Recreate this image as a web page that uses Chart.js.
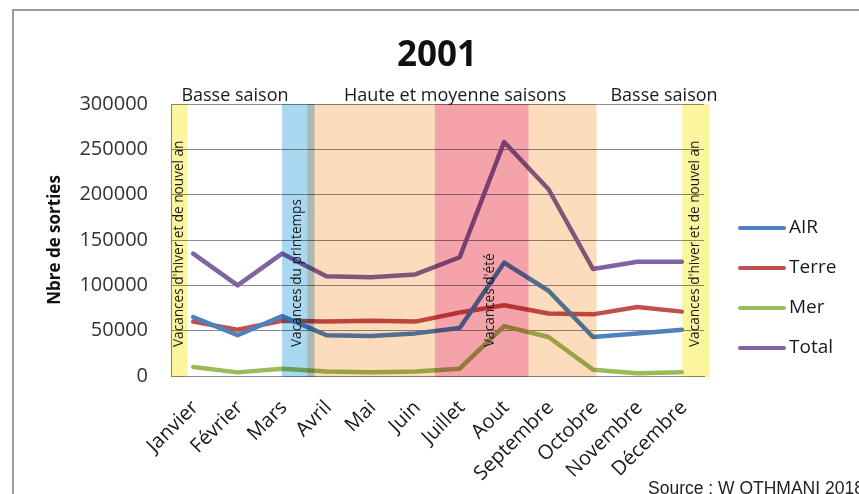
<!DOCTYPE html>
<html lang="fr">
<head>
<meta charset="utf-8">
<title>Sorties 2001</title>
<script src="https://cdn.jsdelivr.net/npm/chart.js@4"></script>
<style>
  html, body { margin: 0; padding: 0; background: #fff; }
</style>
</head>
<body>
<canvas id="graphique" width="859" height="494"></canvas>
<script>
// Données
const mois = ["Janvier", "Février", "Mars", "Avril", "Mai", "Juin", "Juillet", "Aout", "Septembre", "Octobre", "Novembre", "Décembre"];
const air = [65000, 45000, 66000, 45000, 44000, 47000, 53000, 125000, 94000, 43000, 47000, 51000];
const terre = [60000, 51000, 61000, 60000, 61000, 60000, 70000, 78000, 69000, 68000, 76000, 71000];
const mer = [10000, 4000, 8000, 5000, 4000, 5000, 8000, 55000, 43000, 7000, 3000, 4000];
const total = [135000, 100000, 135000, 110000, 109000, 112000, 131000, 258000, 206000, 118000, 126000, 126000];

// Périodes (en mois, 0 = Janvier)
const periodeDebut = [-0.5, 2.0, 2.57, 5.44, 7.55, 11.01];
const periodeFin = [-0.13, 2.73, 5.44, 7.55, 9.08, 11.62];

// Saisons écrites au-dessus du graphique
const saisons = ["Basse saison", "Haute et moyenne saisons", "Basse saison"];
const saisonsCentre = [0.94, 5.9, 10.6];

// Vacances écrites verticalement
const vacances = ["Vacances d'hiver et de nouvel an", "Vacances du printemps", "Vacances d'été", "Vacances d'hiver et de nouvel an"];
const vacancesPosition = [-0.31, 2.34, 6.68, 11.29];

const couleursPeriodes = ["#fbf59e", "#a9d8f0", "#fddcbd", "#f4a3ab", "#fddcbd", "#fbf59e"];

// Fonds colorés, textes et légende dessinés après les courbes
const decorations = {
  id: "decorations",
  beforeDraw(chart) {
    const ctx = chart.ctx;
    ctx.save();
    ctx.strokeStyle = "#9a9a9a";
    ctx.lineWidth = 2;
    ctx.beginPath();
    ctx.moveTo(13, chart.height);
    ctx.lineTo(13, 10);
    ctx.lineTo(chart.width, 10);
    ctx.stroke();
    ctx.restore();
  },
  afterDatasetsDraw(chart) {
    const { ctx, chartArea } = chart;
    const x = chart.scales.x;
    ctx.save();
    ctx.globalCompositeOperation = "multiply";
    periodeDebut.forEach((debut, i) => {
      const x0 = x.getPixelForValue(debut);
      const x1 = x.getPixelForValue(periodeFin[i]);
      ctx.fillStyle = couleursPeriodes[i];
      ctx.fillRect(x0, chartArea.top, x1 - x0, chartArea.bottom - chartArea.top + 1);
    });
    ctx.restore();

    ctx.save();
    ctx.fillStyle = "#1a1a1a";
    ctx.font = "13.6px 'Open Sans'";
    ctx.textAlign = "left";
    ctx.textBaseline = "middle";
    vacances.forEach((texte, i) => {
      ctx.save();
      ctx.translate(x.getPixelForValue(vacancesPosition[i]), chartArea.bottom - 29);
      ctx.rotate(-Math.PI / 2);
      ctx.fillText(texte, 0, 0);
      ctx.restore();
    });

    ctx.font = "18px 'Open Sans'";
    ctx.textAlign = "center";
    ctx.textBaseline = "middle";
    saisons.forEach((texte, i) => {
      ctx.fillText(texte, x.getPixelForValue(saisonsCentre[i]), chartArea.top - 8);
    });
    ctx.restore();
  },
  afterDraw(chart) {
    const { ctx, chartArea } = chart;
    ctx.save();
    chart.data.datasets.forEach((ds, i) => {
      const y = chartArea.top + 124 + i * 40;
      ctx.strokeStyle = ds.borderColor;
      ctx.lineWidth = 4;
      ctx.lineCap = "round";
      ctx.beginPath();
      ctx.moveTo(chartArea.right + 36, y);
      ctx.lineTo(chartArea.right + 80, y);
      ctx.stroke();
      ctx.fillStyle = "#1a1a1a";
      ctx.font = "19px 'Open Sans'";
      ctx.textAlign = "left";
      ctx.textBaseline = "middle";
      ctx.fillText(ds.label, chartArea.right + 85, y);
    });

    ctx.fillStyle = "#222";
    ctx.font = "17.5px 'Liberation Sans'";
    ctx.textAlign = "left";
    ctx.textBaseline = "alphabetic";
    ctx.fillText("Source : W OTHMANI 2018", 648, 494);
    ctx.restore();
  },
};

const ctx = document.getElementById("graphique").getContext("2d");

new Chart(ctx, {
  type: "line",
  data: {
    labels: mois,
    datasets: [
      { label: "AIR", data: air, borderColor: "#4f81bd" },
      { label: "Terre", data: terre, borderColor: "#c0504d" },
      { label: "Mer", data: mer, borderColor: "#9bbb59" },
      { label: "Total", data: total, borderColor: "#8064a2" },
    ],
  },
  options: {
    responsive: false,
    animation: false,
    layout: { padding: { left: 15, right: 0, top: 0, bottom: 0 } },
    elements: {
      line: { borderWidth: 4.5, tension: 0, borderJoinStyle: "round", borderCapStyle: "round", fill: false },
      point: { radius: 0, hoverRadius: 0 },
    },
    plugins: {
      legend: { display: false },
      tooltip: { enabled: false },
      title: {
        display: true,
        text: "2001",
        color: "#111",
        font: { family: "'Open Sans'", size: 35, weight: "bold" },
        padding: { top: 35, bottom: 27 },
      },
    },
    scales: {
      x: {
        offset: true,
        grid: { display: false },
        border: { display: true, color: "#8c8c8c", width: 1 },
        ticks: {
          autoSkip: false,
          maxRotation: 45,
          minRotation: 45,
          padding: 12,
          labelOffset: 2,
          color: "#1a1a1a",
          font: { family: "'Open Sans'", size: 20 },
        },
        afterFit(scale) {
          scale.height = 118;
        },
      },
      y: {
        min: 0,
        max: 300000,
        grid: { color: "#8c8c8c", lineWidth: 1, drawTicks: false },
        border: { display: true, color: "#8c8c8c", width: 1 },
        ticks: {
          stepSize: 50000,
          padding: 23,
          color: "#333",
          font: { family: "'Open Sans'", size: 20 },
          callback: (v) => String(v),
        },
        title: {
          display: true,
          text: "Nbre de sorties",
          color: "#111",
          font: { family: "'Open Sans'", size: 17, weight: "bold" },
          padding: { top: 30, bottom: 0 },
        },
        afterFit(scale) {
          scale.width = 156;
        },
      },
      // axe vide à droite pour laisser la place de la légende
      y2: {
        position: "right",
        display: true,
        grid: { display: false },
        border: { display: false },
        ticks: { display: false },
        afterFit(scale) {
          scale.width = 155;
        },
      },
    },
  },
  plugins: [decorations],
});
</script>
</body>
</html>
